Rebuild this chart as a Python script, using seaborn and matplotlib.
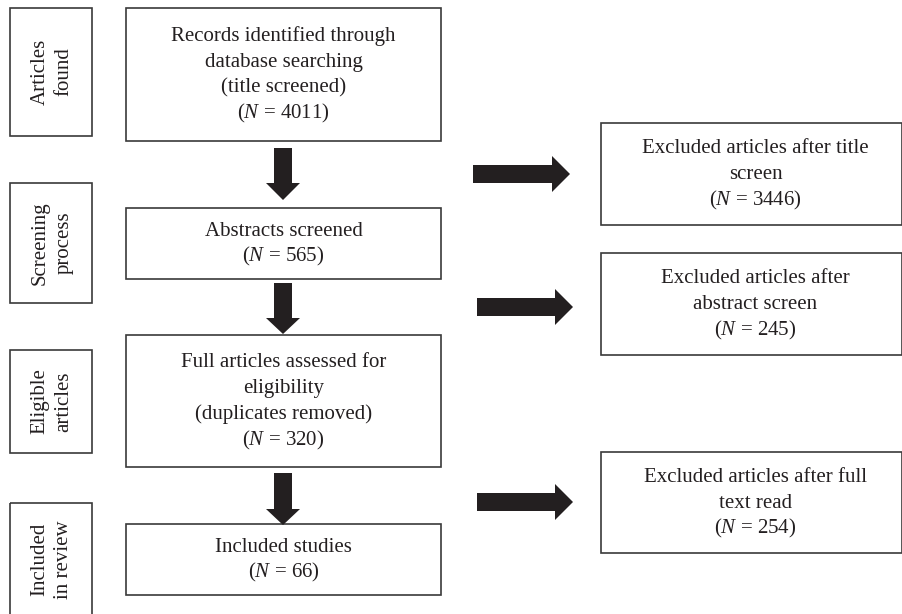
import matplotlib
matplotlib.use("Agg")
import matplotlib.pyplot as plt
from matplotlib.patches import Rectangle, Polygon
import seaborn as sns

sns.set_theme(style="white")
plt.rcParams['font.family'] = ['Liberation Serif', 'DejaVu Serif']
plt.rcParams['mathtext.fontset'] = 'custom'
plt.rcParams['mathtext.rm'] = 'Liberation Serif'
plt.rcParams['mathtext.it'] = 'Liberation Serif:italic'

# ---- data ----
stage_labels = ["Articles\nfound", "Screening\nprocess", "Eligible\narticles", "Included\nin review"]
main_texts = ["Records identified through\ndatabase searching\n(title screened)",
              "Abstracts screened",
              "Full articles assessed for\neligibility\n(duplicates removed)",
              "Included studies"]
main_counts = [4011, 565, 320, 66]
excl_texts = ["Excluded articles after title\nscreen",
              "Excluded articles after\nabstract screen",
              "Excluded articles after full\ntext read"]
excl_counts = [3446, 245, 254]

# ---- layout (pixels) ----
W, H = 903, 614
stage_boxes = [(10, 8, 92, 136), (10, 183, 92, 303), (10, 350, 92, 453), (10, 503, 92, 622)]
main_boxes = [(126, 8, 441, 141), (126, 208, 441, 279), (126, 335, 441, 467), (126, 524, 441, 595)]
excl_boxes = [(601, 123, 902, 225), (601, 253, 902, 355), (601, 452, 902, 553)]
v_arrows = [(148, 183, 200), (283, 318, 334), (473, 509, 525)]  # shaft top, head start, tip
h_arrows = [(473, 552, 570, 174), (477, 555, 573, 307), (477, 555, 573, 502)]  # x0, head start, tip, yc

fig = plt.figure(figsize=(W / 100, H / 100), dpi=100)
ax = fig.add_axes([0, 0, 1, 1])
ax.set_xlim(0, W)
ax.set_ylim(H, 0)
ax.axis("off")

edge = "#3a3a3a"
arrow_c = "#231f20"
txt_c = "#231f20"
fs = 15
pitch = 26
base_off = 5

def box(b):
    x0, y0, x1, y1 = b
    ax.add_patch(Rectangle((x0, y0), x1 - x0, y1 - y0, fill=False, ec=edge, lw=1.2))

def block(xc, yc, lines):
    n = len(lines)
    for i, ln in enumerate(lines):
        y = yc - (n - 1) / 2 * pitch + i * pitch + base_off
        ax.text(xc, y, ln, ha="center", va="baseline", fontsize=fs, color=txt_c)

for b, lab in zip(stage_boxes, stage_labels):
    box(b)
    yb = min(b[3], H + 2)
    ax.text((b[0] + b[2]) / 2 + 1, (b[1] + yb) / 2, lab, rotation=90,
            ha="center", va="center", fontsize=fs, linespacing=1.35, color=txt_c)

for b, t, n in zip(main_boxes, main_texts, main_counts):
    box(b)
    block((b[0] + b[2]) / 2, (b[1] + b[3]) / 2, t.split("\n") + ["($N$ = %d)" % n])

for b, t, n in zip(excl_boxes, excl_texts, excl_counts):
    box(b)
    block((b[0] + b[2]) / 2 + 4, (b[1] + b[3]) / 2, t.split("\n") + ["($N$ = %d)" % n])

cx = 283
sw, hw = 9, 17
for top, hs, tip in v_arrows:
    pts = [(cx - sw, top), (cx + sw, top), (cx + sw, hs), (cx + hw, hs), (cx, tip),
           (cx - hw, hs), (cx - sw, hs)]
    ax.add_patch(Polygon(pts, closed=True, fc=arrow_c, ec="none"))

for x0, hs, tip, yc in h_arrows:
    pts = [(x0, yc - sw), (hs, yc - sw), (hs, yc - 18), (tip, yc), (hs, yc + 18),
           (hs, yc + sw), (x0, yc + sw)]
    ax.add_patch(Polygon(pts, closed=True, fc=arrow_c, ec="none"))

fig.savefig("out.png", dpi=100)
